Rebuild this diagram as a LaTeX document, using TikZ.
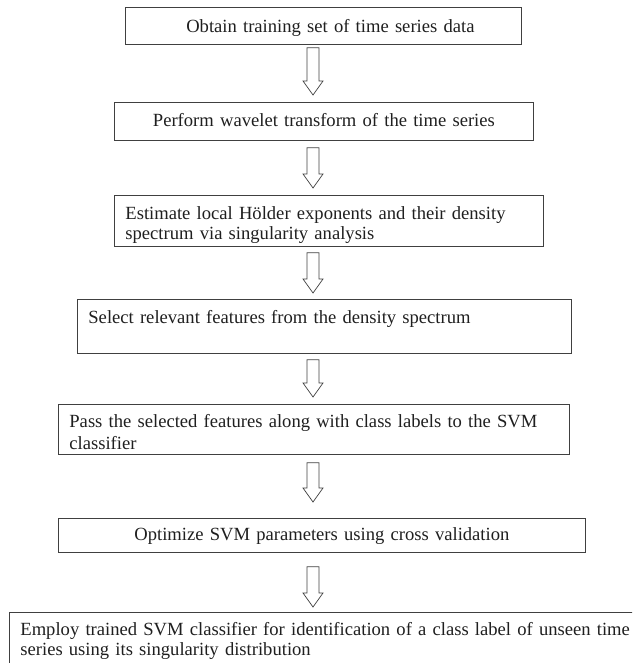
\documentclass[tikz,border=0pt]{standalone}
\usepackage{fontspec}
\setmainfont{Liberation Serif}
\usetikzlibrary{calc}

\tikzset{
  stepbox/.style={draw=black!75,line width=0.8pt,anchor=north west,inner xsep=11pt,inner ysep=0pt,
    font=\fontsize{18.6}{20}\selectfont,text=black!88},
  flowarrow/.style={draw=black!75,line width=0.7pt,line join=miter}
}

% block arrow between two boxes: from, to, gap below first, gap above second
\newcommand{\Flow}[4]{%
  \draw[flowarrow] let \p1=($(#1.south -| spine)+(0,#3)$), \p2=($(#2.north -| spine)-(0,#4)$) in
    (\x1-6pt,\y1) -- (\x1-6pt,\y2+14pt) -- (\x1-10pt,\y2+14pt) -- (\x1,\y2)
    -- (\x1+10pt,\y2+14pt) -- (\x1+6pt,\y2+14pt) -- (\x1+6pt,\y1) -- cycle;
}

\begin{document}
\begin{tikzpicture}[x=1pt,y=-1pt]
      \useasboundingbox (0,0) rectangle (632,663);
      \clip (0,0) rectangle (632,663);
      \coordinate (spine) at (313,0);

      \node[stepbox,align=center,text width=374pt,text height=25pt,text depth=12pt] (obtain) at (125,7)
        {\hspace*{14pt}Obtain training set of time series data};
      \node[stepbox,align=center,text width=397pt,text height=24.5pt,text depth=13.5pt] (wavelet) at (114,102)
        {Perform wavelet transform of the time series};
      \node[stepbox,align=left,text width=407pt,text height=24.5pt,text depth=26.5pt] (holder) at (114,195)
        {Estimate local H\"older exponents and their density\\spectrum via singularity analysis};
      \node[stepbox,align=left,text width=472pt,text height=24pt,text depth=30pt] (select) at (77,299)
        {Select relevant features from the density spectrum};
      \node[stepbox,align=left,text width=489pt,text height=23.5pt,text depth=26.5pt] (pass) at (58,404)
        {Pass the selected features along with class labels to the SVM\\[1.5pt]classifier};
      \node[stepbox,align=center,text width=505pt,text height=22pt,text depth=12pt] (optimize) at (58,518)
        {Optimize SVM parameters using cross validation};
      \node[stepbox,align=left,text width=660pt,text height=23.5pt,text depth=45pt] (employ) at (9,612)
        {Employ trained SVM classifier for identification of a class label of unseen time\\series using its singularity distribution};

      \Flow{obtain}{wavelet}{3}{7}
      \Flow{wavelet}{holder}{7}{7}
      \Flow{holder}{select}{6}{6}
      \Flow{select}{pass}{6}{7}
      \Flow{pass}{optimize}{8}{16}
      \Flow{optimize}{employ}{14}{5}
   \end{tikzpicture}
\end{document}
